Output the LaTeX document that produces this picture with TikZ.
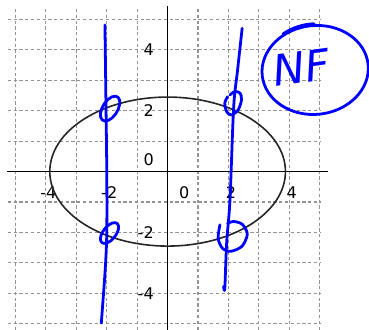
\documentclass[tikz,border=0pt]{standalone}
\usepackage{fontspec}
\setmainfont{DejaVu Sans}
\usepackage{tikz}

\begin{document}
\begin{tikzpicture}[
    blueink/.style={blue, line width=2.6pt, line cap=round, line join=round},
    ticklabel/.style={font=\fontsize{15}{18}\selectfont, inner sep=0pt}]
    \useasboundingbox (-5.51,-5.2) rectangle (6.62,5.64);

    % Grid and axes
    \draw[gray!85, line width=1.05pt, dash pattern=on 3pt off 2.4pt, step=1]
        (-5.25,-5.2) grid (5.05,5.38);
    \draw[line width=1.3pt] (-5.27,0) -- (5.28,0);
    \draw[line width=1.3pt] (0,-5.2) -- (0,5.44);
    \foreach \x in {-4,-2,2,4} \node[ticklabel] (xlab\x) at (\x+0.08,-0.69) {\x};
    \foreach \y in {-4,-2,2,4} \node[ticklabel, anchor=east] (ylab\y) at (-0.45,\y) {\y};
    \node[ticklabel] (xlab0) at (0.55,-0.69) {0};
    \node[ticklabel, anchor=east] (ylab0) at (-0.45,0.38) {0};

    % Ellipse x^2/15 + y^2/6 = 1
    \draw[black!85, line width=1.5pt] (0,0) ellipse [x radius=3.873, y radius=2.449];

    % Hand drawn lines x = -2 and x = 2
    \draw[blueink] plot[smooth] coordinates {(-2.06,4.82) (-2.03,2.5) (-2.0,0) (-2.0,-2.0) (-2.05,-3.2) (-2.18,-4.98)};
    \draw[blueink] plot[smooth] coordinates {(2.45,4.71) (2.3,3.34) (2.17,2.1) (2.05,-0.93) (1.94,-2.35) (1.88,-3.83) (1.84,-3.78)};

    % Intersection points circled
    \draw[blueink, cm={0.315,0.14,0.055,0.385,(-1.89,2.07)}] (0,0) circle (1);
    \draw[blueink, cm={0.29,0.11,0.08,0.325,(-1.91,-2.02)}] (0,0) circle (1);
    \draw[blueink] plot[smooth] coordinates {(1.97,2.46) (1.88,2.25) (1.94,1.97) (2.1,1.86) (2.32,2.03) (2.43,2.36) (2.38,2.58) (2.21,2.63) (2.05,2.52)};
    \draw[blueink] plot[smooth] coordinates {(1.72,-1.75) (1.66,-2.19) (1.8,-2.52) (2.08,-2.62) (2.45,-2.45) (2.62,-2.05) (2.45,-1.73) (2.16,-1.64) (1.97,-1.70)};

    % Annotation
    \node[blue, font=\fontsize{40}{40}\selectfont\itshape, rotate=8] (nf) at (4.4,3.42) {NF};
    \coordinate (nfring) at (4.85,3.34);
    \draw[blueink, rotate around={6:(nfring)}] (nfring) ellipse [x radius=1.75, y radius=1.46];
    \draw[blueink, rotate around={6:(nfring)}] (nfring) ++(86:1.75 and 1.52)
        arc[start angle=86, end angle=122, x radius=1.75, y radius=1.52];
\end{tikzpicture}
\end{document}
